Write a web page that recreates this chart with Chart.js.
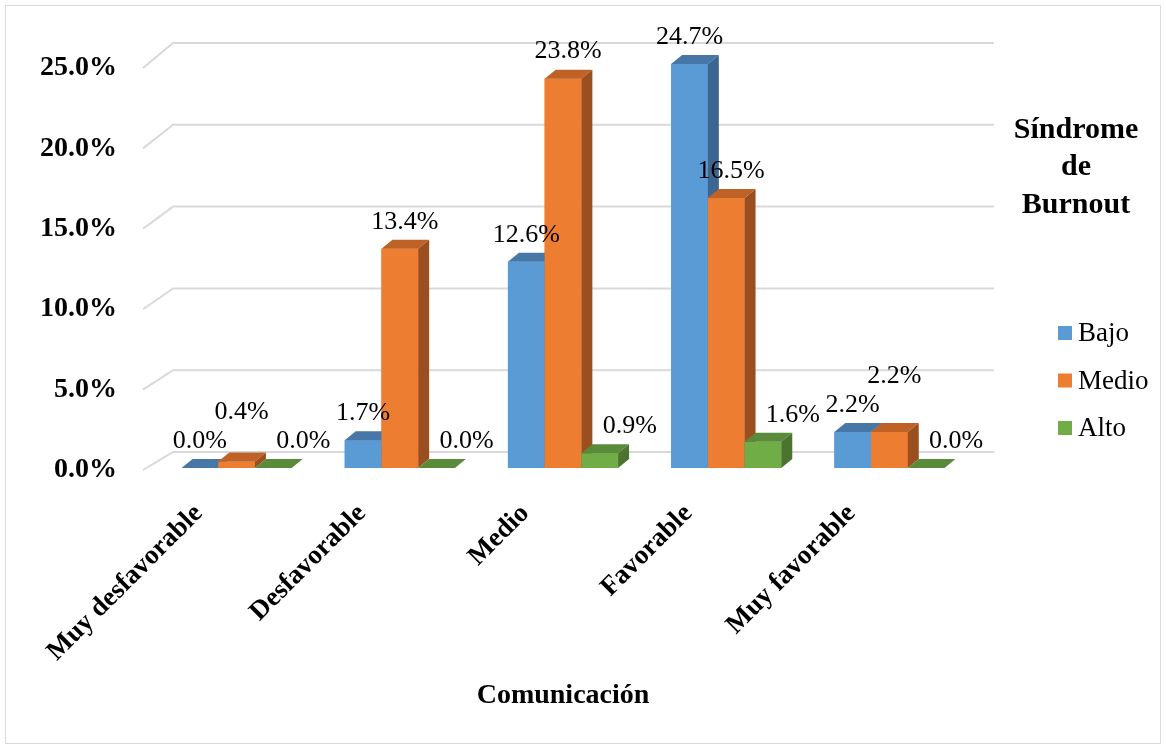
<!DOCTYPE html>
<html><head><meta charset="utf-8">
<script src="https://cdn.jsdelivr.net/npm/chart.js@4.4.0/dist/chart.umd.min.js"></script>
<style>html,body{margin:0;padding:0;background:#fff;} canvas{display:block;}</style>
</head><body>
<canvas id="c" width="1166" height="749"></canvas>
<script>
const categories = ['Muy desfavorable', 'Desfavorable', 'Medio', 'Favorable', 'Muy favorable'];
const seriesNames = ['Bajo', 'Medio', 'Alto'];
const bajo = [0.0, 1.7, 12.6, 24.7, 2.2];
const medio = [0.4, 13.4, 23.8, 16.5, 2.2];
const alto = [0.0, 0.0, 0.9, 1.6, 0.0];
const yTicks = [0, 5, 10, 15, 20, 25];
const legendTitle = ['Síndrome', 'de', 'Burnout'];
const xTitle = 'Comunicación';

const frontColors = ['#5B9BD5', '#ED7D31', '#70AD47'];
const topColors = ['#4777A6', '#BE6228', '#5A8B3A'];
const sideColors = ['#3C6690', '#9C4F1E', '#4B7430'];
const SERIF = '"Liberation Serif", "Times New Roman", serif';
const DX = 11, DY = -9;          // bar depth
const WALL_BACK_X = 18, WALL_FRONT_X = -12, WALL_BACK_Y = -16;
const LABEL_DX = [0, 5, 30];

const threeD = {
  id: 'threeD',
  beforeDraw(chart) {
    const ctx = chart.ctx, a = chart.chartArea, ys = chart.scales.y;
    const yMax = ys.max;
    ctx.save();
    ctx.fillStyle = '#fff';
    ctx.fillRect(0, 0, chart.width, chart.height);
    ctx.strokeStyle = '#D9D9D9';
    ctx.lineWidth = 1;
    ctx.strokeRect(5.5, 5.5, chart.width - 11, chart.height - 11);
    ctx.lineWidth = 2;
    yTicks.forEach(v => {
      const py = ys.getPixelForValue(v);
      const yb = py + WALL_BACK_Y;
      const yf = py + 2 + 7 * v / yMax;
      ctx.strokeStyle = '#D9D9D9';
      ctx.beginPath();
      ctx.moveTo(a.left + WALL_FRONT_X, yf);
      ctx.lineTo(a.left + WALL_BACK_X, yb);
      ctx.lineTo(a.right + 23, yb);
      ctx.stroke();
      ctx.fillStyle = '#000';
      ctx.font = 'bold 28px ' + SERIF;
      ctx.textAlign = 'right';
      ctx.textBaseline = 'middle';
      ctx.fillText(v.toFixed(1) + '%', a.left - 38, yf);
    });
    ctx.restore();
  },
  afterDatasetsDraw(chart) {
    const ctx = chart.ctx;
    ctx.save();
    const n = categories.length;
    const labels = [];
    for (let j = 0; j < n; j++) {
      const placed = [];
      for (let i = 0; i < chart.data.datasets.length; i++) {
        const el = chart.getDatasetMeta(i).data[j];
        const p = el.getProps(['x', 'y', 'base', 'width'], true);
        const l = p.x - p.width / 2, r = p.x + p.width / 2;
        ctx.fillStyle = frontColors[i];
        ctx.fillRect(l, p.y, p.width, p.base - p.y);
        ctx.fillStyle = topColors[i];
        ctx.beginPath();
        ctx.moveTo(l, p.y); ctx.lineTo(r, p.y); ctx.lineTo(r + DX, p.y + DY); ctx.lineTo(l + DX, p.y + DY);
        ctx.closePath(); ctx.fill();
        ctx.fillStyle = sideColors[i];
        ctx.beginPath();
        ctx.moveTo(r, p.y); ctx.lineTo(r + DX, p.y + DY); ctx.lineTo(r + DX, p.base + DY); ctx.lineTo(r, p.base);
        ctx.closePath(); ctx.fill();
        const val = chart.data.datasets[i].data[j];
        const txt = val.toFixed(1) + '%';
        ctx.font = '26px ' + SERIF;
        const w = ctx.measureText(txt).width;
        let lx = p.x + LABEL_DX[i], ly = p.y - 27;
        for (let k = 0; k < placed.length; k++) {
          const q = placed[k];
          if (Math.abs(q.x - lx) < (q.w + w) / 2 && Math.abs(q.y - ly) < 26) ly = q.y - 29;
        }
        placed.push({x: lx, y: ly, w: w});
        labels.push({x: lx, y: ly, t: txt});
      }
    }
    ctx.fillStyle = '#000';
    ctx.font = '26px ' + SERIF;
    ctx.textAlign = 'center';
    ctx.textBaseline = 'middle';
    labels.forEach(o => ctx.fillText(o.t, o.x, o.y));
    ctx.restore();
  },
  afterDraw(chart) {
    const ctx = chart.ctx;
    const cx = chart.width - 90;
    ctx.save();
    ctx.fillStyle = '#000';
    ctx.textAlign = 'center';
    ctx.textBaseline = 'middle';
    ctx.font = 'bold 30px ' + SERIF;
    legendTitle.forEach((t, k) => ctx.fillText(t, cx, 130 + k * 37.5));
    ctx.font = '27px ' + SERIF;
    ctx.textAlign = 'left';
    chart.data.datasets.forEach((ds, k) => {
      const yy = 333 + k * 47.5;
      ctx.fillStyle = ds.backgroundColor;
      ctx.fillRect(cx - 18, yy - 7, 14, 14);
      ctx.fillStyle = '#000';
      ctx.fillText(ds.label, cx + 2, yy + 1);
    });
    ctx.restore();
  }
};

new Chart(document.getElementById('c'), {
  type: 'bar',
  data: {
    labels: categories,
    datasets: [
      {label: seriesNames[0], data: bajo, backgroundColor: frontColors[0]},
      {label: seriesNames[1], data: medio, backgroundColor: frontColors[1]},
      {label: seriesNames[2], data: alto, backgroundColor: frontColors[2]}
    ]
  },
  options: {
    responsive: false,
    animation: false,
    categoryPercentage: 0.675,
    barPercentage: 1,
    borderWidth: 0,
    layout: {padding: {left: 155, right: 195, top: 59, bottom: 0}},
    plugins: {legend: {display: false}, tooltip: {enabled: false}},
    scales: {
      y: {display: false, min: 0, max: 25},
      x: {
        grid: {display: false},
        border: {display: false},
        ticks: {
          color: '#000',
          font: {family: SERIF, size: 27, weight: 'bold'},
          minRotation: 45, maxRotation: 45, padding: 22, labelOffset: -38
        },
        title: {
          display: true, text: xTitle, color: '#000',
          font: {family: SERIF, size: 28, weight: 'bold'},
          padding: {top: 0, bottom: 36}
        },
        afterFit(s) { s.height = 281; }
      }
    }
  },
  plugins: [threeD]
});
</script>
</body></html>
